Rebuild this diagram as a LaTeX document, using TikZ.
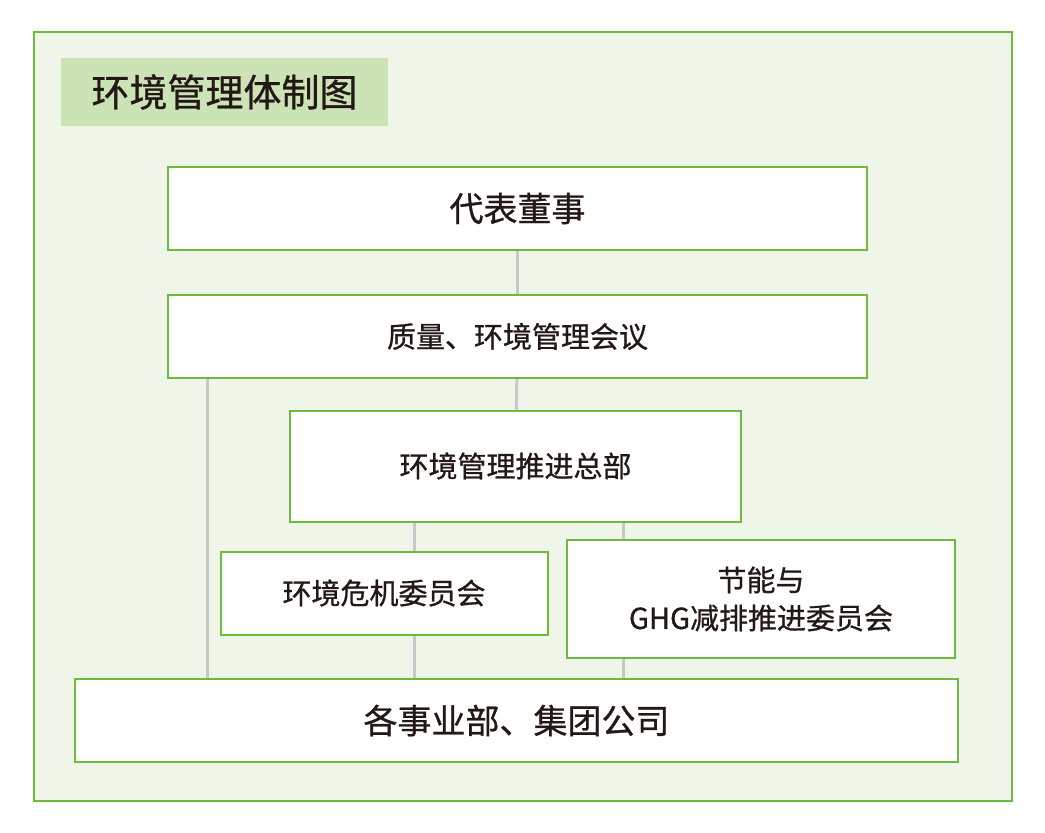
\documentclass[tikz,border=0pt]{standalone}
\usepackage{fontspec}
\setmainfont{Noto Sans CJK SC}[FakeBold=0.8]
\usetikzlibrary{positioning,backgrounds}
\definecolor{frame}{RGB}{108,187,60}
\definecolor{panelbg}{RGB}{240,245,233}
\definecolor{titlebg}{RGB}{204,227,182}
\definecolor{link}{RGB}{200,200,200}
\definecolor{ink}{RGB}{35,24,21}

\begin{document}
\begin{tikzpicture}[
  x = 1pt,
  y = -1pt,
  panel/.style = {
    draw = frame,
    fill = panelbg,
    line width = 2pt,
    rectangle,
    inner sep = 0pt,
  },
  title/.style = {
    fill = titlebg,
    rectangle,
    text = ink,
    font = \fontsize{38}{44}\selectfont,
    minimum width = 327pt,
    minimum height = 68pt,
  },
  unit/.style = {
    draw = frame,
    fill = white,
    line width = 2pt,
    rectangle,
    text = ink,
    align = center,
    inner sep = 0pt,
    font = \fontsize{29}{38}\selectfont,
  },
  bigunit/.style = {
    unit,
    font = \fontsize{34}{40}\selectfont,
  },
  line/.style = {
    draw = link,
    line width = 3pt,
  },
]

  \useasboundingbox (0,0) rectangle (1045,833);

  \node[title] (head) at (224.5,92) {环境管理体制图\hspace{6pt}};

  \node[bigunit,minimum width=699pt,minimum height=83pt] (ceo) at (517.5,208.5) {代表董事};
  \node[unit,minimum width=699pt,minimum height=83pt] (meeting) at (517.5,336.5) {质量、环境管理会议};
  \node[unit,minimum width=451pt,minimum height=111pt] (hq) at (515.5,466) {环境管理推进总部};
  \node[unit,minimum width=327pt,minimum height=83pt] (crisis) at (384,593) {环境危机委员会};
  \node[unit,minimum width=388pt,minimum height=118pt] (ghg) at (761,599) {节能与\\GHG减排推进委员会};
  \node[bigunit,minimum width=883pt,minimum height=83pt] (depts) at (516.5,720.5) {各事业部、集团公司};

  \coordinate (left) at (207,0);
  \coordinate (mid) at (414,0);
  \coordinate (right) at (623,0);

  \begin{scope}[on background layer]
    \node[panel,minimum width=978pt,minimum height=769pt] (frame) at (522.5,416.5) {};
    \path[line] (ceo) -- (meeting);
    \path[line] (meeting) -- (hq);
    \path[line] (left |- meeting.south) -- (left |- depts.north);
    \path[line] (mid |- hq.south) -- (mid |- crisis.north);
    \path[line] (mid |- crisis.south) -- (mid |- depts.north);
    \path[line] (right |- hq.south) -- (right |- ghg.north);
    \path[line] (right |- ghg.south) -- (right |- depts.north);
  \end{scope}

\end{tikzpicture}
\end{document}
